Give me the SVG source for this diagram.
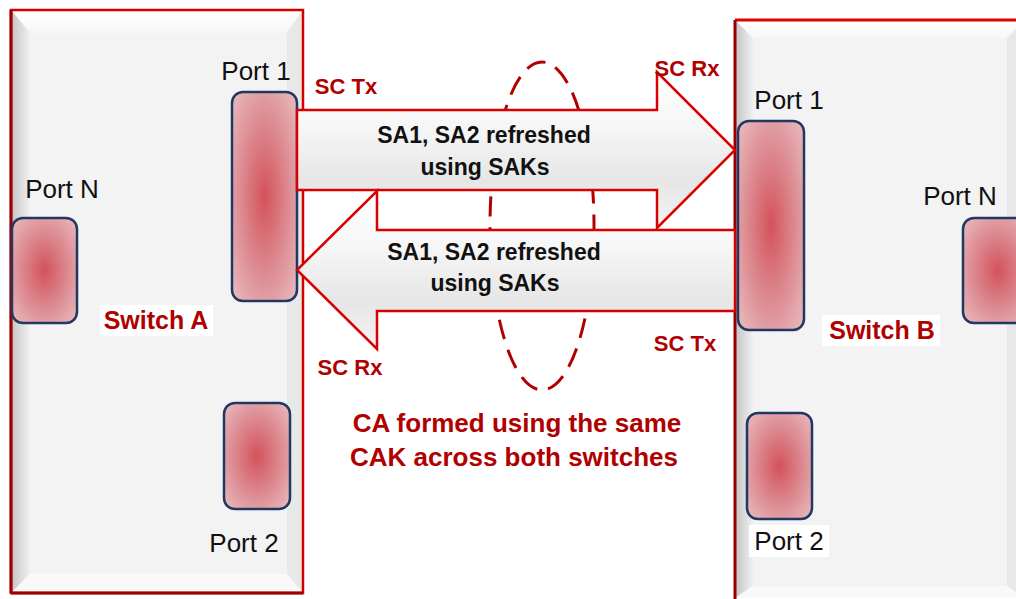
<svg xmlns="http://www.w3.org/2000/svg" width="1016" height="599" viewBox="0 0 1016 599">
<defs>
<radialGradient id="portFill" cx="50%" cy="50%" r="72%">
<stop offset="0" stop-color="#d4525b"/>
<stop offset="0.5" stop-color="#dc8a90"/>
<stop offset="1" stop-color="#eac0c3"/>
</radialGradient>
<linearGradient id="leftBevel" x1="0" y1="0" x2="1" y2="0">
<stop offset="0" stop-color="#c4c4c4"/>
<stop offset="1" stop-color="#f0f0f0"/>
</linearGradient>
<linearGradient id="topBevel" x1="0" y1="0" x2="0" y2="1">
<stop offset="0" stop-color="#ffffff"/>
<stop offset="1" stop-color="#f7f7f7"/>
</linearGradient>
<linearGradient id="arrowFill" x1="0" y1="0" x2="0" y2="1">
<stop offset="0" stop-color="#ffffff"/>
<stop offset="0.35" stop-color="#f6f6f6"/>
<stop offset="0.7" stop-color="#e6e6e6"/>
<stop offset="1" stop-color="#f4f4f4"/>
</linearGradient>
</defs>
<style>
.panel{fill:#f3f3f3}
.tb{fill:url(#topBevel)}
.lb{fill:url(#leftBevel)}
.rb{fill:#e8e8e8}
.bb{fill:#f9f9f9}
.border{fill:none;stroke:#d40000;stroke-width:2.5}
.darkedge{stroke:#9a0000;stroke-width:3}
.port{fill:url(#portFill);stroke:#1f3864;stroke-width:2.5}
.lbl{font-family:"Liberation Sans",Arial,sans-serif;font-size:26px;fill:#111;text-anchor:middle}
.red{font-family:"Liberation Sans",Arial,sans-serif;font-weight:bold;font-size:22px;fill:#b00000;text-anchor:middle}
.sw{font-size:25px}
.ca{font-size:26px}
.arrow{fill:url(#arrowFill);stroke:#d80000;stroke-width:2.5;stroke-linejoin:miter}
.atext{font-family:"Liberation Sans",Arial,sans-serif;font-weight:bold;font-size:23px;fill:#111;text-anchor:middle}
.ca-ellipse{fill:none;stroke:#b00000;stroke-width:3;stroke-dasharray:20 11}
.wbg{fill:#ffffff}
</style>

<g id="switchA">
<rect class="panel" x="11" y="10" width="292" height="583"/>
<polygon class="tb" points="11,10 303,10 285,33 30,33"/>
<polygon class="lb" points="11,10 30,33 30,574 11,593"/>
<polygon class="rb" points="303,10 303,593 287,574 287,33"/>
<polygon class="bb" points="11,593 30,574 287,574 303,593"/>
<rect class="border" x="11" y="10" width="292" height="583"/>
<line class="darkedge" x1="11" y1="10" x2="11" y2="593"/>
<line class="darkedge" x1="11" y1="593" x2="303" y2="593"/>
<rect class="wbg" x="100" y="305" width="113" height="31"/>
<text class="red sw" x="156" y="329">Switch A</text>
</g>

<g id="switchB">
<rect class="panel" x="735" y="20" width="290" height="578"/>
<polygon class="tb" points="735,20 1025,20 1007,38 753,38"/>
<polygon class="lb" points="735,20 753,38 753,586 735,598"/>
<polygon class="rb" points="1025,20 1025,598 1007,586 1007,38"/>
<polygon class="bb" points="735,598 753,586 1007,586 1025,598"/>
<line x1="735" y1="20" x2="1016" y2="20" stroke="#e00000" stroke-width="3"/>
<line class="darkedge" x1="735" y1="20" x2="735" y2="599"/>
<rect class="wbg" x="822" y="315" width="118" height="31"/>
<text class="red sw" x="882" y="339">Switch B</text>
</g>

<g id="portA1">
<rect class="port" x="232" y="92" width="65" height="209" rx="11"/>
<text class="lbl" x="256" y="80">Port 1</text>
</g>
<g id="portAN">
<rect class="port" x="12" y="218" width="65" height="105" rx="11"/>
<text class="lbl" x="62" y="198">Port N</text>
</g>
<g id="portA2">
<rect class="port" x="224" y="403" width="66" height="106" rx="11"/>
<text class="lbl" x="244" y="552">Port 2</text>
</g>
<g id="portB1">
<rect class="port" x="738" y="121" width="66" height="209" rx="11"/>
<text class="lbl" x="789" y="109">Port 1</text>
</g>
<g id="portBN">
<rect class="port" x="963" y="218" width="70" height="105" rx="11"/>
<text class="lbl" x="960" y="205">Port N</text>
</g>
<g id="portB2">
<rect class="port" x="747" y="413" width="65" height="106" rx="11"/>
<rect class="wbg" x="749" y="525" width="80" height="32"/>
<text class="lbl" x="789" y="550">Port 2</text>
</g>

<g id="connectors">
<ellipse class="ca-ellipse" cx="542" cy="226" rx="52" ry="164"/>
<path class="arrow" d="M297,110 L657,110 L657,72 L735,150 L657,228 L657,190 L297,190 Z"/>
<path class="arrow" d="M735,230 L377,230 L377,191 L297,270 L377,349 L377,311 L735,311 Z"/>
<text class="atext" x="484" y="143">SA1, SA2 refreshed</text>
<text class="atext" x="485" y="175">using SAKs</text>
<text class="atext" x="494" y="260">SA1, SA2 refreshed</text>
<text class="atext" x="495" y="291">using SAKs</text>
<text class="red" x="346" y="94">SC Tx</text>
<text class="red" x="687" y="76">SC Rx</text>
<text class="red" x="350" y="375">SC Rx</text>
<text class="red" x="685" y="351">SC Tx</text>
</g>

<g id="caLabel">
<text class="red ca" x="517" y="432">CA formed using the same</text>
<text class="red ca" x="514" y="466">CAK across both switches</text>
</g>
</svg>
